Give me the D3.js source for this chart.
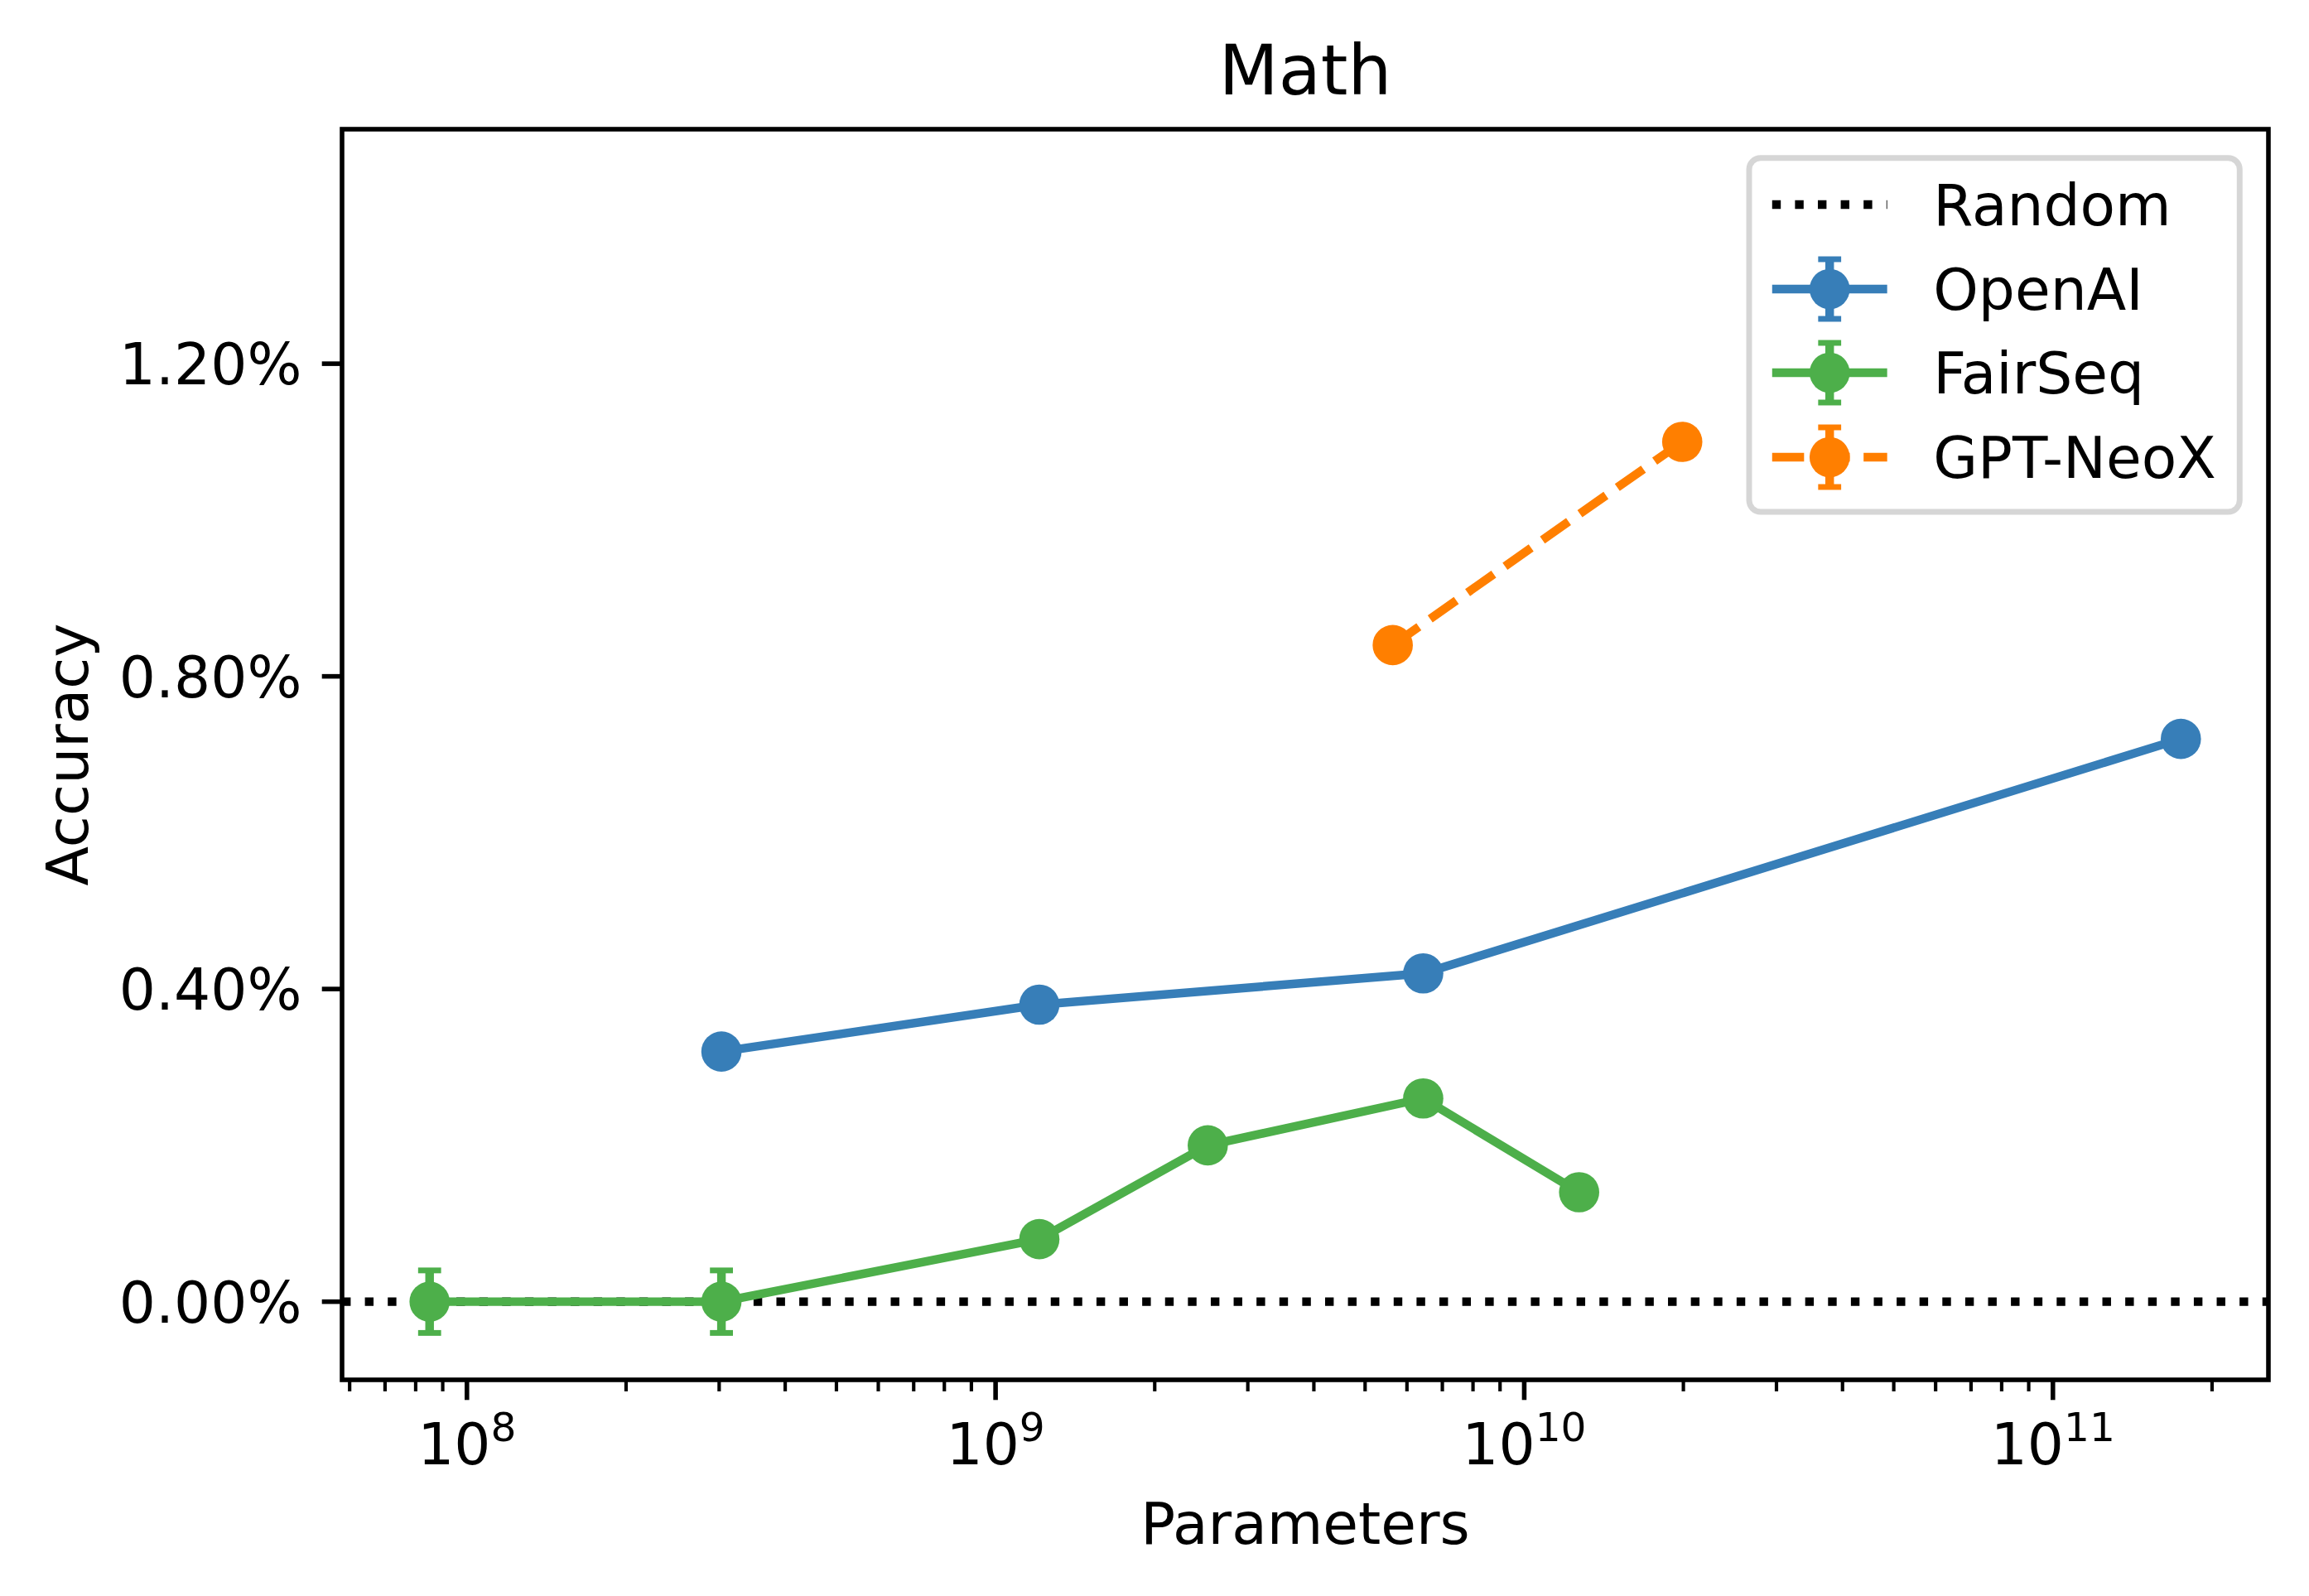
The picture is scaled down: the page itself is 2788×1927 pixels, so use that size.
<!DOCTYPE html>
<html lang="en">
<head>
<meta charset="utf-8">
<title>Math</title>
<script src="https://d3js.org/d3.v7.min.js"></script>
<style>
  body { margin: 0; background: #fff; }
  svg text { font-family: "DejaVu Sans", sans-serif; fill: #000; }
</style>
</head>
<body>
<div id="chart"></div>
<script>
// values (accuracy in %)
var openaiParams = [3.03e8, 1.21e9, 6.44e9, 1.746e11];
var openaiAcc = [0.32, 0.38, 0.42, 0.72];
var openaiErr = [0.015, 0.015, 0.015, 0.015];

var fairseqParams = [8.5e7, 3.03e8, 1.21e9, 2.52e9, 6.44e9, 1.27e10];
var fairseqAcc = [0, 0, 0.08, 0.20, 0.26, 0.14];
var fairseqErr = [0.04, 0.04, 0.015, 0.015, 0.015, 0.015];

var neoxParams = [5.64e9, 1.99e10];
var neoxAcc = [0.84, 1.10];
var neoxErr = [0.015, 0.015];

var randomAcc = 0;
var yTicks = [0, 0.4, 0.8, 1.2];
var xTicks = [1e8, 1e9, 1e10, 1e11];
var yLimits = [-0.1, 1.5];

var width = 2788, height = 1927;
var margin = {top: 156, left: 413, right: 2788 - 2739, bottom: 1927 - 1666};
var pt = 500 / 72;          // figure was 500 dpi
var fs = 10 * pt;           // 10pt text

var svg = d3.select("#chart").append("svg")
  .attr("width", width)
  .attr("height", height);

// log x limits with 5% margin like matplotlib
var allX = openaiParams.concat(fairseqParams, neoxParams);
var lo = Math.log10(d3.min(allX)), hi = Math.log10(d3.max(allX));
var pad = (hi - lo) * 0.05;
var xScale = d3.scaleLog()
  .domain([Math.pow(10, lo - pad), Math.pow(10, hi + pad)])
  .range([margin.left, width - margin.right]);

var yScale = d3.scaleLinear()
  .domain(yLimits)
  .range([height - margin.bottom, margin.top]);

var x0 = margin.left, x1 = width - margin.right;
var y0 = margin.top, y1 = height - margin.bottom;

// random baseline
svg.append("line")
  .attr("x1", x0).attr("x2", x1)
  .attr("y1", yScale(randomAcc)).attr("y2", yScale(randomAcc))
  .attr("stroke", "#000")
  .attr("stroke-width", 1.5 * pt)
  .attr("stroke-dasharray", (1 * 1.5 * pt) + " " + (1.65 * 1.5 * pt));

var series = [
  {name: "OpenAI", x: openaiParams, y: openaiAcc, e: openaiErr, color: "#377eb8", dash: null},
  {name: "FairSeq", x: fairseqParams, y: fairseqAcc, e: fairseqErr, color: "#4daf4a", dash: null},
  {name: "GPT-NeoX", x: neoxParams, y: neoxAcc, e: neoxErr, color: "#ff7f00",
   dash: (3.7 * 1.5 * pt) + " " + (1.6 * 1.5 * pt)}
];

var line = d3.line()
  .x(function(d){ return xScale(d[0]); })
  .y(function(d){ return yScale(d[1]); });

var capW = 2 * pt;
var markerR = 3.5 * pt;

series.forEach(function(s){
  var pts = s.x.map(function(v, i){ return [v, s.y[i], s.e[i]]; });
  var g = svg.append("g");

  // error bars
  var eb = g.selectAll(".eb").data(pts).enter().append("g");
  eb.append("line")
    .attr("x1", function(d){ return xScale(d[0]); })
    .attr("x2", function(d){ return xScale(d[0]); })
    .attr("y1", function(d){ return yScale(d[1] - d[2]); })
    .attr("y2", function(d){ return yScale(d[1] + d[2]); })
    .attr("stroke", s.color).attr("stroke-width", 1.5 * pt);
  [-1, 1].forEach(function(sign){
    eb.append("line")
      .attr("x1", function(d){ return xScale(d[0]) - capW; })
      .attr("x2", function(d){ return xScale(d[0]) + capW; })
      .attr("y1", function(d){ return yScale(d[1] + sign * d[2]); })
      .attr("y2", function(d){ return yScale(d[1] + sign * d[2]); })
      .attr("stroke", s.color).attr("stroke-width", 1 * pt);
  });

  g.append("path")
    .datum(pts)
    .attr("d", line)
    .attr("fill", "none")
    .attr("stroke", s.color)
    .attr("stroke-width", 1.5 * pt)
    .attr("stroke-linejoin", "round")
    .attr("stroke-dasharray", s.dash);

  g.selectAll("circle").data(pts).enter().append("circle")
    .attr("cx", function(d){ return xScale(d[0]); })
    .attr("cy", function(d){ return yScale(d[1]); })
    .attr("r", markerR)
    .attr("fill", s.color);
});

// axes frame
svg.append("rect")
  .attr("x", x0).attr("y", y0)
  .attr("width", x1 - x0).attr("height", y1 - y0)
  .attr("fill", "none").attr("stroke", "#000").attr("stroke-width", 0.8 * pt);

// y ticks
var yAxis = svg.append("g");
yTicks.forEach(function(t){
  var y = yScale(t);
  yAxis.append("line")
    .attr("x1", x0).attr("x2", x0 - 3.5 * pt)
    .attr("y1", y).attr("y2", y)
    .attr("stroke", "#000").attr("stroke-width", 0.8 * pt);
  yAxis.append("text")
    .attr("x", x0 - 7 * pt)
    .attr("y", y + 25)
    .attr("text-anchor", "end")
    .attr("font-size", fs)
    .text(t.toFixed(2) + "%");
});

// x ticks (major + minor)
var xAxis = svg.append("g");
var dom = xScale.domain();
for (var e = 7; e <= 11; e++) {
  for (var m = 1; m <= 9; m++) {
    var v = m * Math.pow(10, e);
    if (v < dom[0] || v > dom[1]) continue;
    var major = (m === 1);
    xAxis.append("line")
      .attr("x1", xScale(v)).attr("x2", xScale(v))
      .attr("y1", y1).attr("y2", y1 + (major ? 3.5 : 2) * pt)
      .attr("stroke", "#000")
      .attr("stroke-width", (major ? 0.8 : 0.6) * pt);
  }
}
xTicks.forEach(function(t){
  var lbl = xAxis.append("text")
    .attr("x", xScale(t))
    .attr("y", 1768)
    .attr("text-anchor", "middle")
    .attr("font-size", fs);
  lbl.append("tspan").text("10");
  lbl.append("tspan")
    .attr("dy", -28)
    .attr("font-size", fs * 0.7)
    .text(String(Math.round(Math.log10(t))));
});

// labels
var cx = (x0 + x1) / 2;
svg.append("text")
  .attr("x", cx).attr("y", 1864)
  .attr("text-anchor", "middle")
  .attr("font-size", fs)
  .text("Parameters");

svg.append("text")
  .attr("transform", "translate(106," + ((y0 + y1) / 2) + ") rotate(-90)")
  .attr("text-anchor", "middle")
  .attr("font-size", fs)
  .text("Accuracy");

svg.append("text")
  .attr("x", cx).attr("y", y0 - 6 * pt)
  .attr("text-anchor", "middle")
  .attr("font-size", 12 * pt)
  .text("Math");

// legend
var legRight = x1 - 0.5 * fs, legTop = y0 + 0.5 * fs;
var legLeft = 2112, legBottom = 618;
var leg = svg.append("g");
leg.append("rect")
  .attr("x", legLeft).attr("y", legTop)
  .attr("width", legRight - legLeft).attr("height", legBottom - legTop)
  .attr("rx", 0.2 * fs).attr("ry", 0.2 * fs)
  .attr("fill", "#fff").attr("fill-opacity", 0.8)
  .attr("stroke", "#d6d6d6").attr("stroke-width", 1 * pt);

var hx0 = legLeft + 0.4 * fs, hx1 = hx0 + 2 * fs, hxc = (hx0 + hx1) / 2;
var textX = hx1 + 0.8 * fs;
var rowY = [247, 349, 450, 552];
var entries = [{name: "Random", color: "#000", dash: (1.5 * pt) + " " + (1.65 * 1.5 * pt), random: true}]
  .concat(series);

entries.forEach(function(s, i){
  var y = rowY[i];
  var g = leg.append("g");
  g.append("line")
    .attr("x1", hx0).attr("x2", hx1)
    .attr("y1", y).attr("y2", y)
    .attr("stroke", s.color)
    .attr("stroke-width", 1.5 * pt)
    .attr("stroke-dasharray", s.dash);
  if (!s.random) {
    var eh = 36;
    g.append("line")
      .attr("x1", hxc).attr("x2", hxc)
      .attr("y1", y - eh).attr("y2", y + eh)
      .attr("stroke", s.color).attr("stroke-width", 1.5 * pt);
    [-1, 1].forEach(function(sign){
      g.append("line")
        .attr("x1", hxc - capW).attr("x2", hxc + capW)
        .attr("y1", y + sign * eh).attr("y2", y + sign * eh)
        .attr("stroke", s.color).attr("stroke-width", 1 * pt);
    });
    g.append("circle")
      .attr("cx", hxc).attr("cy", y).attr("r", markerR)
      .attr("fill", s.color);
  }
  g.append("text")
    .attr("x", textX).attr("y", y + 25)
    .attr("font-size", fs)
    .text(s.name);
});
</script>
</body>
</html>
